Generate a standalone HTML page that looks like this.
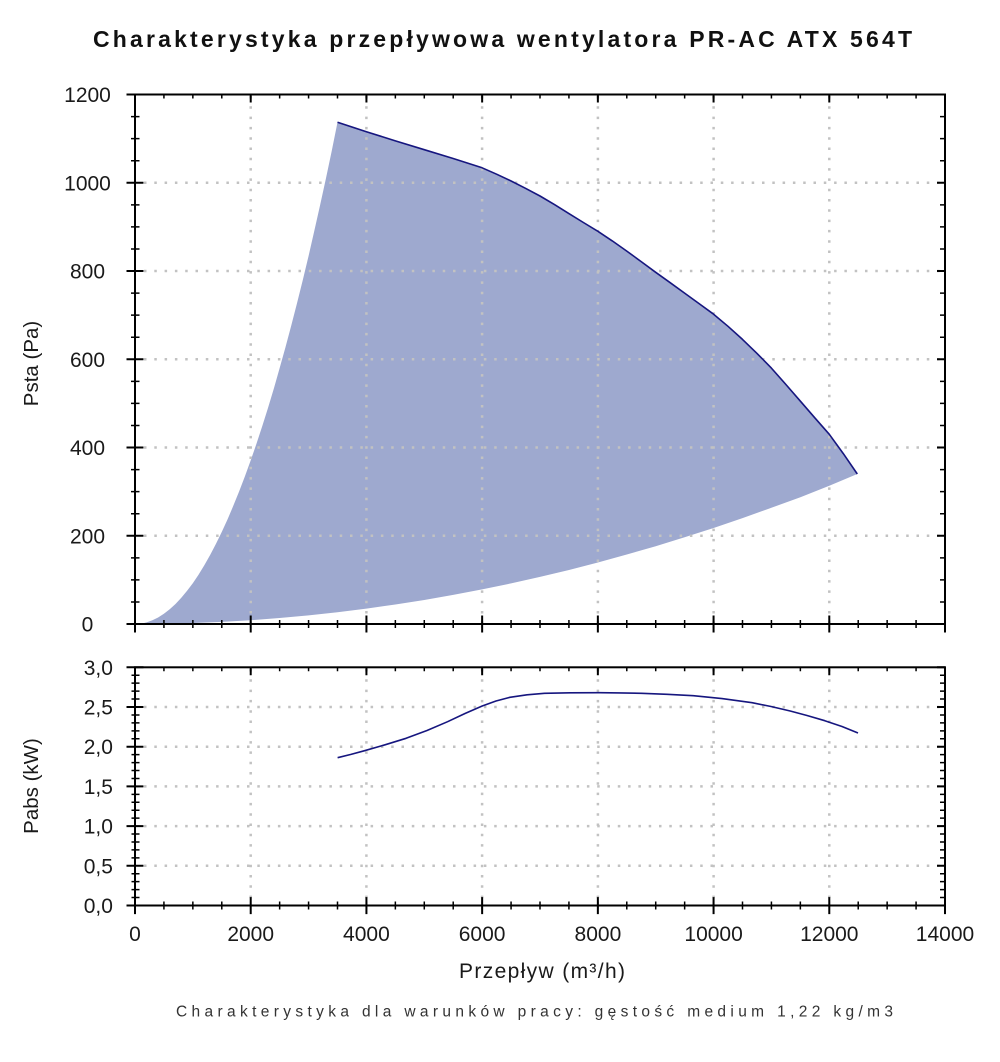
<!DOCTYPE html>
<html>
<head>
<meta charset="utf-8">
<style>
  html,body{margin:0;padding:0;background:#fff;}
  svg{display:block;}
  text{font-family:"Liberation Sans","DejaVu Sans",sans-serif;fill:#1a1a1a;}
</style>
</head>
<body>
<svg width="1000" height="1062" viewBox="0 0 1000 1062" xmlns="http://www.w3.org/2000/svg">
  <rect width="1000" height="1062" fill="#fff"/>

  <!-- Title -->
  <text x="502.5" y="47" font-size="23" font-weight="bold" text-anchor="middle" textLength="819" lengthAdjust="spacing" style="fill:#111">Charakterystyka przepływowa wentylatora PR-AC ATX 564T</text>

  <!-- ===== TOP CHART ===== -->
  <path fill="#9EA9CF" d="M140,624 L146.6,622.4 L152.4,620.3 L158.1,617.5 L163.9,613.8 L169.7,609.3 L175.5,604.0 L181.3,597.8 L187.1,590.8 L192.9,583.1 L198.6,574.6 L204.4,565.1 L210.2,554.9 L216.0,543.8 L221.8,531.9 L227.6,519.3 L233.3,505.8 L239.1,491.5 L244.9,476.4 L250.7,460.4 L256.5,443.6 L262.3,426.0 L268.1,407.6 L273.9,388.4 L279.6,368.3 L285.4,347.5 L291.2,325.8 L297.0,303.3 L302.8,280.0 L308.6,255.9 L314.3,230.9 L320.1,205.1 L325.9,178.6 L331.7,151.1 L337.5,122.3
    L366.4,131.7 L395.4,140.9 L424.3,149.7 L453.2,158.5 L482.1,167.8 L496.6,174.2 L511.1,181.0 L525.5,188.3 L540,196.0 L554.5,204.6 L568.9,213.6 L583.4,222.5 L597.9,231.3 L612.3,240.9 L626.8,251.1 L641.2,261.6 L655.7,272.3 L670.2,282.7 L684.6,293.1 L699.1,303.6 L713.6,314.2 L728,326.3 L742.5,339.4 L757,353.4 L771.4,368.1 L785.9,384.5 L800.4,401.2 L814.8,417.8 L829.3,434.3 L843.3,453.6 L857.3,474
    L829.3,485.8 L800.4,497.2 L771.4,507.8 L742.5,518.1 L713.6,528 L684.6,537.3 L655.7,546.2 L626.8,554.5 L597.9,562.5 L569,570.0 L540,576.9 L511.1,583.4 L482.1,589.4 L453.2,594.9 L424.3,600 L395.4,604.5 L366.4,608.6 L337.5,612.2 L308.6,615.4 L279.6,618.0 L250.7,620.2 L221.8,621.9 L192.9,623 L163.9,623.8 L140,624 Z"/>

  <!-- Grid top -->
  <g stroke="#c2c2c2" stroke-width="2.5" stroke-dasharray="2.5 7.8" fill="none">
    <line x1="250.7" y1="96" x2="250.7" y2="624"/>
    <line x1="366.4" y1="96" x2="366.4" y2="624"/>
    <line x1="482.1" y1="96" x2="482.1" y2="624"/>
    <line x1="597.9" y1="96" x2="597.9" y2="624"/>
    <line x1="713.6" y1="96" x2="713.6" y2="624"/>
    <line x1="829.3" y1="96" x2="829.3" y2="624"/>
    <line x1="144" y1="535.75" x2="945" y2="535.75"/>
    <line x1="144" y1="447.5" x2="945" y2="447.5"/>
    <line x1="144" y1="359.25" x2="945" y2="359.25"/>
    <line x1="144" y1="271" x2="945" y2="271"/>
    <line x1="144" y1="182.75" x2="945" y2="182.75"/>
  </g>

  <!-- Top curve -->
  <polyline fill="none" stroke="#16167f" stroke-width="1.6" stroke-linejoin="round" points="337.5,122.3 366.4,131.7 395.4,140.9 424.3,149.7 453.2,158.5 482.1,167.8 496.6,174.2 511.1,181.0 525.5,188.3 540,196.0 554.5,204.6 568.9,213.6 583.4,222.5 597.9,231.3 612.3,240.9 626.8,251.1 641.2,261.6 655.7,272.3 670.2,282.7 684.6,293.1 699.1,303.6 713.6,314.2 728,326.3 742.5,339.4 757,353.4 771.4,368.1 785.9,384.5 800.4,401.2 814.8,417.8 829.3,434.3 843.3,453.6 857.3,474"/>

  <!-- Frame top chart -->
  <rect x="135" y="94.5" width="810" height="529.5" fill="none" stroke="#000" stroke-width="2"/>

  <!-- Ticks top chart -->
  <g stroke="#000" fill="none">
    <line x1="135.25" y1="624.75" x2="135.25" y2="93" stroke-width="8.5" stroke-dasharray="1.5 20.5625"/>
    <line x1="135" y1="625" x2="135" y2="93" stroke-width="17" stroke-dasharray="2 86.25"/>
    <line x1="942.5" y1="624.75" x2="942.5" y2="93" stroke-width="5" stroke-dasharray="1.5 20.5625"/>
    <line x1="941" y1="625" x2="941" y2="93" stroke-width="8" stroke-dasharray="2 86.25"/>
    <line x1="134.25" y1="96.5" x2="947" y2="96.5" stroke-width="4" stroke-dasharray="1.5 27.4286"/>
    <line x1="134" y1="98.5" x2="947" y2="98.5" stroke-width="8" stroke-dasharray="2 113.714"/>
    <line x1="134.25" y1="624" x2="947" y2="624" stroke-width="8" stroke-dasharray="1.5 27.4286"/>
    <line x1="134" y1="624" x2="947" y2="624" stroke-width="17" stroke-dasharray="2 113.714"/>
  </g>

  <!-- Y labels top -->
  <g font-size="21" text-anchor="middle">
    <text x="87.5" y="102">1200</text>
    <text x="87.5" y="190.25">1000</text>
    <text x="87.5" y="278.5">800</text>
    <text x="87.5" y="366.75">600</text>
    <text x="87.5" y="455">400</text>
    <text x="87.5" y="543.25">200</text>
    <text x="87.5" y="631.5">0</text>
  </g>
  <text transform="translate(38,363.5) rotate(-90)" font-size="20.5" text-anchor="middle">Psta (Pa)</text>

  <!-- ===== BOTTOM CHART ===== -->
  <g stroke="#c2c2c2" stroke-width="2.5" stroke-dasharray="2.5 7.8" fill="none">
    <line x1="250.7" y1="669" x2="250.7" y2="905"/>
    <line x1="366.4" y1="669" x2="366.4" y2="905"/>
    <line x1="482.1" y1="669" x2="482.1" y2="905"/>
    <line x1="597.9" y1="669" x2="597.9" y2="905"/>
    <line x1="713.6" y1="669" x2="713.6" y2="905"/>
    <line x1="829.3" y1="669" x2="829.3" y2="905"/>
    <line x1="144" y1="707" x2="945" y2="707"/>
    <line x1="144" y1="746.7" x2="945" y2="746.7"/>
    <line x1="144" y1="786.4" x2="945" y2="786.4"/>
    <line x1="144" y1="826.1" x2="945" y2="826.1"/>
    <line x1="144" y1="865.8" x2="945" y2="865.8"/>
  </g>

  <polyline fill="none" stroke="#16167f" stroke-width="1.6" stroke-linejoin="round" points="337.6,757.7 351,754.4 364.6,750.7 385,744.8 406.1,738.3 427,730.5 447.6,721.7 465,713.5 482.2,706 496,701 509.9,697.3 527,694.8 544.5,693.3 570,692.8 599.9,692.7 620,692.9 641.4,693.3 667,694.3 693.3,695.7 722,698.6 752.1,702.7 771,706.5 790.2,711 807,715.5 824.8,720.7 842,726.5 858,733"/>

  <rect x="135" y="667.3" width="810" height="238.2" fill="none" stroke="#000" stroke-width="2"/>

  <g stroke="#000" fill="none">
    <line x1="135.5" y1="906.25" x2="135.5" y2="666" stroke-width="8" stroke-dasharray="1.5 6.44"/>
    <line x1="135" y1="906.5" x2="135" y2="666" stroke-width="17" stroke-dasharray="2 37.7"/>
    <line x1="942.5" y1="906.25" x2="942.5" y2="666" stroke-width="5" stroke-dasharray="1.5 6.44"/>
    <line x1="941" y1="906.5" x2="941" y2="666" stroke-width="8" stroke-dasharray="2 37.7"/>
    <line x1="134.25" y1="669.3" x2="947" y2="669.3" stroke-width="4" stroke-dasharray="1.5 27.4286"/>
    <line x1="134" y1="671.3" x2="947" y2="671.3" stroke-width="8" stroke-dasharray="2 113.714"/>
    <line x1="134.25" y1="905.5" x2="947" y2="905.5" stroke-width="8" stroke-dasharray="1.5 27.4286"/>
    <line x1="134" y1="905.6" x2="947" y2="905.6" stroke-width="17" stroke-dasharray="2 113.714"/>
  </g>

  <g font-size="21" text-anchor="middle">
    <text x="98.3" y="674.8">3,0</text>
    <text x="98.3" y="714.5">2,5</text>
    <text x="98.3" y="754.2">2,0</text>
    <text x="98.3" y="793.9">1,5</text>
    <text x="98.3" y="833.6">1,0</text>
    <text x="98.3" y="873.3">0,5</text>
    <text x="98.3" y="913">0,0</text>
  </g>
  <text transform="translate(38,786) rotate(-90)" font-size="20.5" text-anchor="middle">Pabs (kW)</text>

  <!-- X labels -->
  <g font-size="21" text-anchor="middle">
    <text x="135" y="941">0</text>
    <text x="250.7" y="941">2000</text>
    <text x="366.4" y="941">4000</text>
    <text x="482.1" y="941">6000</text>
    <text x="597.9" y="941">8000</text>
    <text x="713.6" y="941">10000</text>
    <text x="829.3" y="941">12000</text>
    <text x="945" y="941">14000</text>
  </g>
  <text x="542" y="978" font-size="21" text-anchor="middle" textLength="166" lengthAdjust="spacing">Przepływ (m³/h)</text>

  <!-- Caption -->
  <text x="534.5" y="1016.5" font-size="15.5" text-anchor="middle" textLength="717" lengthAdjust="spacing" style="fill:#333">Charakterystyka dla warunków pracy: gęstość medium 1,22 kg/m3</text>
</svg>
</body>
</html>
